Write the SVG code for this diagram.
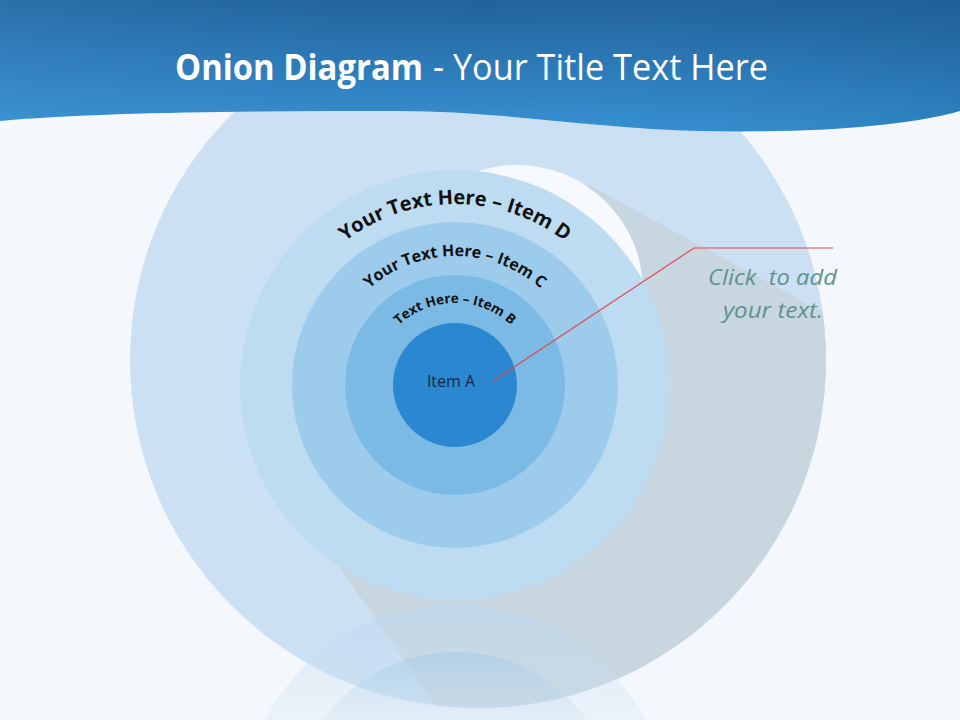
<svg xmlns="http://www.w3.org/2000/svg" width="960" height="720" viewBox="0 0 960 720">
<defs>
<linearGradient id="hdr" x1="0" y1="0" x2="0" y2="132" gradientUnits="userSpaceOnUse">
<stop offset="0" stop-color="#21629b"/>
<stop offset="1" stop-color="#3892d4"/>
</linearGradient>
<linearGradient id="hdrShade" x1="0" y1="0" x2="960" y2="0" gradientUnits="userSpaceOnUse">
<stop offset="0" stop-color="#4a9ad8" stop-opacity="0.25"/>
<stop offset="0.5" stop-color="#2a80c2" stop-opacity="0"/>
<stop offset="1" stop-color="#17558c" stop-opacity="0.25"/>
</linearGradient>
<linearGradient id="refl1" x1="0" y1="600" x2="0" y2="720" gradientUnits="userSpaceOnUse">
<stop offset="0" stop-color="#b9d6ee" stop-opacity="0.55"/>
<stop offset="1" stop-color="#cfe3f3" stop-opacity="0.25"/>
</linearGradient>
<linearGradient id="refl2" x1="0" y1="650" x2="0" y2="720" gradientUnits="userSpaceOnUse">
<stop offset="0" stop-color="#9fc4e4" stop-opacity="0.45"/>
<stop offset="1" stop-color="#c2dbef" stop-opacity="0.2"/>
</linearGradient>
<clipPath id="bigclip"><circle cx="478" cy="360" r="348"/></clipPath>
<path id="arcD" d="M274,385 A181,181 0 0 1 636,385"/>
<path id="arcC" d="M326,385 A129,129 0 0 1 584,385"/>
<path id="arcB" d="M373,385 A82,82 0 0 1 537,385"/>
<style>
.ring{stroke:none}
.curv{font-family:"Open Sans","DejaVu Sans",sans-serif;font-weight:bold;fill:#111}
.lbl{font-family:"Open Sans","DejaVu Sans",sans-serif}
.note{font-family:"Open Sans","DejaVu Sans",sans-serif;font-size:22px;font-style:italic;fill:#5f9291}
</style>
</defs>
<rect width="960" height="720" fill="#f4f8fc"/>
<g id="background-shapes">
<circle cx="478" cy="360" r="348" fill="#cce0f3"/>
<path d="M455,385 L560,200 L588,184.5 L900,354 L900,720 L446,720 L307,520 Z" fill="#c8d6e0" clip-path="url(#bigclip)"/>
<circle cx="517" cy="291" r="126" fill="#f6f9fd"/>
</g>
<g id="reflection">
<circle cx="455" cy="820" r="215" fill="url(#refl1)"/>
<circle cx="455" cy="815" r="163" fill="url(#refl2)"/>
</g>
<g id="header">
<path d="M0,0 H960 V111 C900,128 800,133 700,131 C600,129 500,111 400,111 C250,111 100,112 0,121 Z" fill="url(#hdr)"/>
<path d="M0,0 H960 V111 C900,128 800,133 700,131 C600,129 500,111 400,111 C250,111 100,112 0,121 Z" fill="url(#hdrShade)"/>
<text class="lbl" x="175" y="80" font-size="36" font-weight="bold" fill="#fff" textLength="248" lengthAdjust="spacingAndGlyphs">Onion Diagram</text>
<text class="lbl" x="433" y="80" font-size="36" fill="#fff" textLength="335" lengthAdjust="spacingAndGlyphs">- Your Title Text Here</text>
</g>
<g id="node-d">
<circle class="ring" cx="455" cy="385" r="215" fill="#bddcf2"/>
<text class="curv" font-size="20"><textPath href="#arcD" startOffset="50%" text-anchor="middle">Your Text Here – Item D</textPath></text>
</g>
<g id="node-c">
<circle class="ring" cx="455" cy="385" r="163" fill="#9dcbec"/>
<text class="curv" font-size="16"><textPath href="#arcC" startOffset="50%" text-anchor="middle">Your Text Here – Item C</textPath></text>
</g>
<g id="node-b">
<circle class="ring" cx="455" cy="385" r="110" fill="#7cbae6"/>
<text class="curv" font-size="13.5"><textPath href="#arcB" startOffset="50%" text-anchor="middle">Text Here – Item B</textPath></text>
</g>
<g id="node-a">
<circle class="ring" cx="455" cy="385" r="62" fill="#2b87cf"/>
<text class="lbl" x="451" y="387" font-size="16" fill="#12294a" text-anchor="middle">Item A</text>
</g>
<g id="connectors">
<polyline points="493,381 694,248 833,248" fill="none" stroke="#e04a50" stroke-width="1.2"/>
</g>
<g id="callout">
<text class="note" x="708" y="285" xml:space="preserve" textLength="129" lengthAdjust="spacingAndGlyphs">Click  to add</text>
<text class="note" x="723" y="318" textLength="100" lengthAdjust="spacingAndGlyphs">your text.</text>
</g>
</svg>
